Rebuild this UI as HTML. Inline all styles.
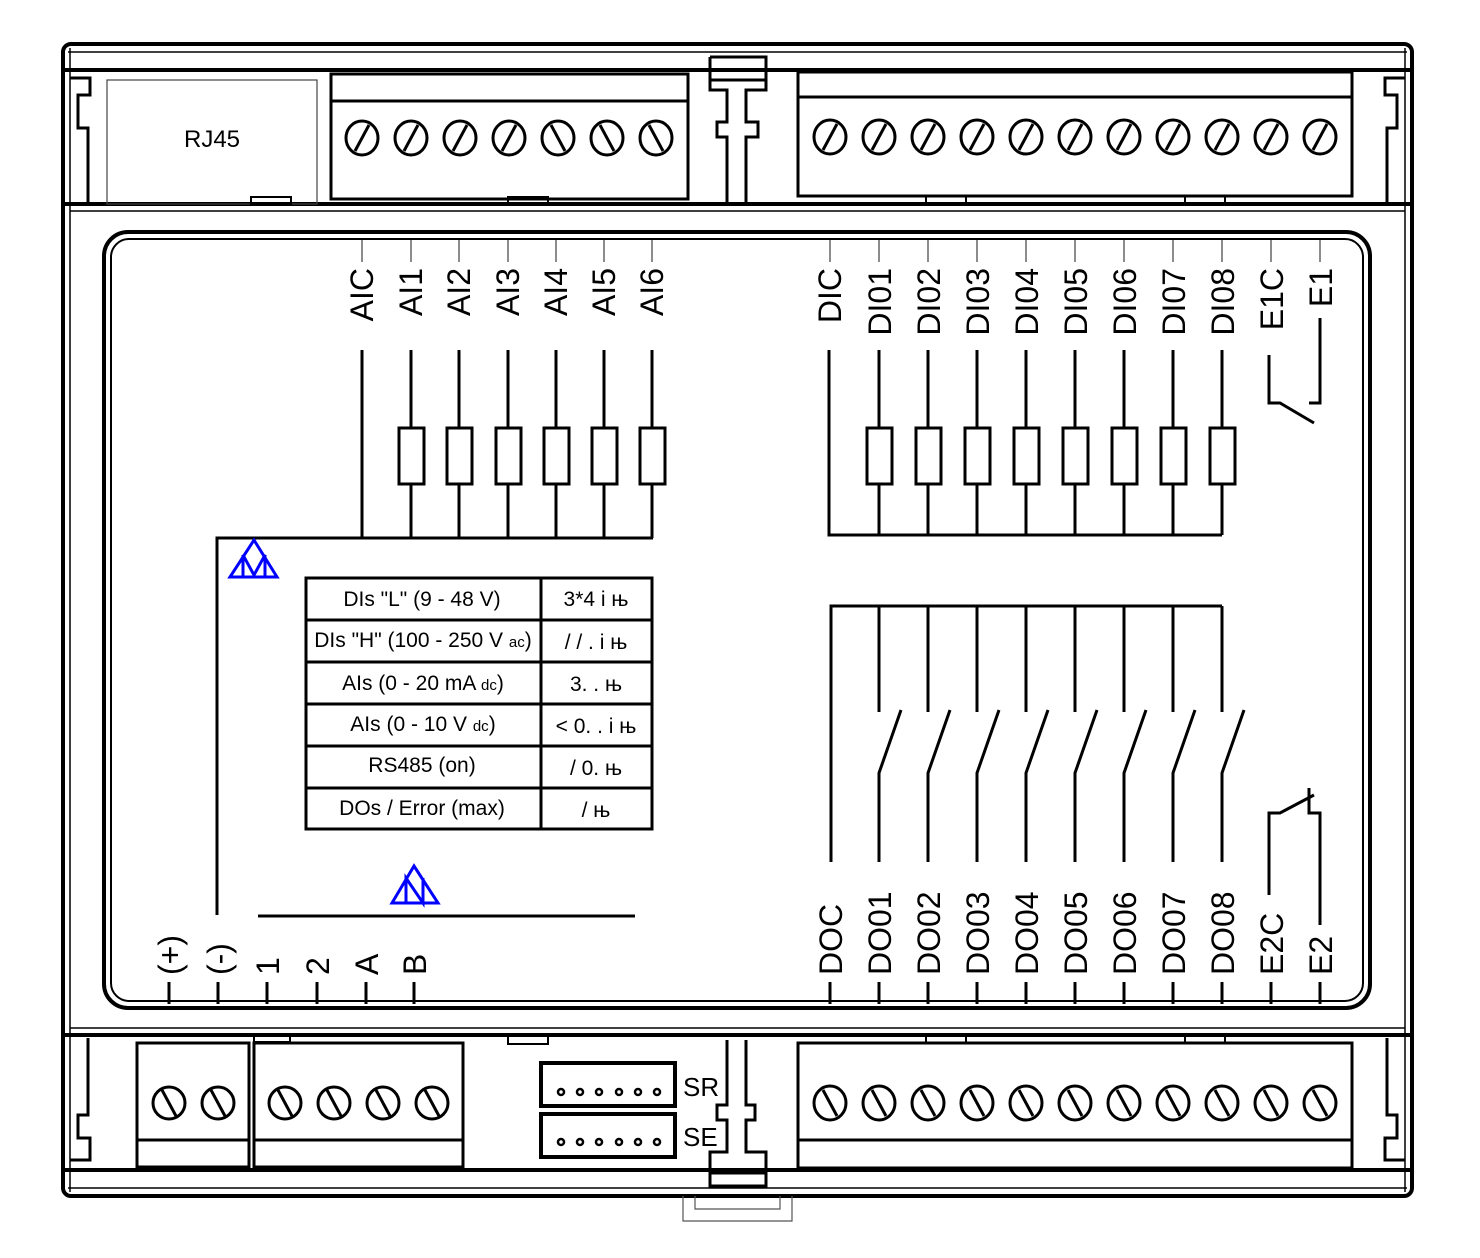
<!DOCTYPE html>
<html><head><meta charset="utf-8"><style>
html,body{margin:0;padding:0;background:#fff}
svg{display:block}
text{font-family:"Liberation Sans",Arial,sans-serif;fill:#000}
</style></head><body>
<svg width="1480" height="1258" viewBox="0 0 1480 1258" xmlns="http://www.w3.org/2000/svg">
<g fill="none" stroke="#000">
<rect x="63" y="44" width="1349" height="1152" rx="8" stroke-width="4"/>
<line x1="68" y1="52" x2="1407" y2="52" stroke-width="1.5"/>
<line x1="68" y1="1188" x2="1407" y2="1188" stroke-width="1.5"/>
<line x1="70" y1="48" x2="70" y2="1192" stroke-width="1.5"/>
<line x1="1405" y1="48" x2="1405" y2="1192" stroke-width="1.5"/>
<line x1="65" y1="70" x2="1410" y2="70" stroke-width="4"/>
<line x1="65" y1="204" x2="1410" y2="204" stroke-width="4"/>
<line x1="70" y1="211" x2="1405" y2="211" stroke-width="1.5"/>
<line x1="65" y1="1035" x2="1410" y2="1035" stroke-width="4"/>
<line x1="70" y1="1028" x2="1405" y2="1028" stroke-width="1.5"/>
<line x1="65" y1="1170" x2="1410" y2="1170" stroke-width="4"/>
<path d="M70 78 H90 V95 H78 V128 H88 V203" stroke-width="3"/>
<path d="M1405 78 H1385 V95 H1397 V128 H1387 V203" stroke-width="3"/>
<path d="M70 1160 H90 V1138 H78 V1115 H88 V1038" stroke-width="3"/>
<path d="M1405 1160 H1385 V1138 H1397 V1115 H1387 V1038" stroke-width="3"/>
<rect x="104" y="232" width="1266" height="776" rx="24" stroke-width="4"/>
<rect x="111" y="239" width="1252" height="762" rx="18" stroke-width="2"/>
<rect x="107" y="80" width="210" height="124" stroke-width="1.2" stroke="#444"/>
<rect x="251" y="197" width="40" height="7" stroke-width="2"/>
<rect x="331" y="74" width="357" height="125" stroke-width="3"/>
<line x1="331" y1="101" x2="688" y2="101" stroke-width="3"/>
<rect x="508" y="197" width="40" height="7" stroke-width="2"/>
<rect x="798" y="72" width="554" height="124" stroke-width="3"/>
<line x1="798" y1="97" x2="1352" y2="97" stroke-width="3"/>
<rect x="926" y="196" width="40" height="8" stroke-width="2"/>
<rect x="1185" y="196" width="40" height="8" stroke-width="2"/>
<path d="M710 57 H766 V90 H746 V122 H758 V137 H746 V204 M710 57 V90 H727 V122 H717 V137 H727 V204" stroke-width="3"/>
<line x1="710" y1="80" x2="766" y2="80" stroke-width="3"/>
<rect x="137" y="1043" width="112" height="124" stroke-width="3"/>
<line x1="137" y1="1140" x2="249" y2="1140" stroke-width="3"/>
<rect x="254" y="1043" width="209" height="124" stroke-width="3"/>
<line x1="254" y1="1140" x2="463" y2="1140" stroke-width="3"/>
<rect x="254" y="1035" width="36" height="7" stroke-width="2"/>
<rect x="508" y="1035" width="40" height="9" stroke-width="2"/>
<rect x="798" y="1043" width="554" height="125" stroke-width="3"/>
<line x1="798" y1="1140" x2="1352" y2="1140" stroke-width="3"/>
<rect x="926" y="1035" width="40" height="8" stroke-width="2"/>
<rect x="1185" y="1035" width="40" height="8" stroke-width="2"/>
<rect x="541" y="1063" width="134" height="43" stroke-width="4"/>
<rect x="541" y="1114" width="134" height="43" stroke-width="4"/>
<path d="M727 1040 V1105 H717 V1120 H727 V1152 H710 V1186 H766 V1152 H746 V1120 H755 V1105 H746 V1040" stroke-width="3"/>
<line x1="710" y1="1173" x2="766" y2="1173" stroke-width="3"/>
<path d="M683 1196 V1221 H792 V1196 M695 1196 V1209 H780 V1196" stroke-width="1.2" stroke="#555"/>
</g>
<g fill="#fff" stroke="#000" stroke-width="2.5">
<circle cx="561" cy="1092" r="3"/><circle cx="580" cy="1092" r="3"/><circle cx="599" cy="1092" r="3"/><circle cx="619" cy="1092" r="3"/><circle cx="638" cy="1092" r="3"/><circle cx="657" cy="1092" r="3"/>
<circle cx="561" cy="1142" r="3"/><circle cx="580" cy="1142" r="3"/><circle cx="599" cy="1142" r="3"/><circle cx="619" cy="1142" r="3"/><circle cx="638" cy="1142" r="3"/><circle cx="657" cy="1142" r="3"/>
</g>
<g fill="none" stroke="#000" stroke-width="3">
<ellipse cx="362" cy="138" rx="16" ry="17"/><line x1="369" y1="125" x2="355" y2="151"/>
<ellipse cx="411" cy="138" rx="16" ry="17"/><line x1="418" y1="125" x2="404" y2="151"/>
<ellipse cx="460" cy="138" rx="16" ry="17"/><line x1="467" y1="125" x2="453" y2="151"/>
<ellipse cx="509" cy="138" rx="16" ry="17"/><line x1="516" y1="125" x2="502" y2="151"/>
<ellipse cx="558" cy="138" rx="16" ry="17"/><line x1="551" y1="125" x2="565" y2="151"/>
<ellipse cx="607" cy="138" rx="16" ry="17"/><line x1="600" y1="125" x2="614" y2="151"/>
<ellipse cx="656" cy="138" rx="16" ry="17"/><line x1="649" y1="125" x2="663" y2="151"/>
<ellipse cx="830" cy="137" rx="16" ry="17"/><line x1="837" y1="124" x2="823" y2="150"/>
<ellipse cx="879" cy="137" rx="16" ry="17"/><line x1="886" y1="124" x2="872" y2="150"/>
<ellipse cx="928" cy="137" rx="16" ry="17"/><line x1="935" y1="124" x2="921" y2="150"/>
<ellipse cx="977" cy="137" rx="16" ry="17"/><line x1="984" y1="124" x2="970" y2="150"/>
<ellipse cx="1026" cy="137" rx="16" ry="17"/><line x1="1033" y1="124" x2="1019" y2="150"/>
<ellipse cx="1075" cy="137" rx="16" ry="17"/><line x1="1082" y1="124" x2="1068" y2="150"/>
<ellipse cx="1124" cy="137" rx="16" ry="17"/><line x1="1131" y1="124" x2="1117" y2="150"/>
<ellipse cx="1173" cy="137" rx="16" ry="17"/><line x1="1180" y1="124" x2="1166" y2="150"/>
<ellipse cx="1222" cy="137" rx="16" ry="17"/><line x1="1229" y1="124" x2="1215" y2="150"/>
<ellipse cx="1271" cy="137" rx="16" ry="17"/><line x1="1278" y1="124" x2="1264" y2="150"/>
<ellipse cx="1320" cy="137" rx="16" ry="17"/><line x1="1327" y1="124" x2="1313" y2="150"/>
<ellipse cx="169" cy="1103" rx="16" ry="16"/><line x1="162" y1="1090" x2="176" y2="1116"/>
<ellipse cx="218" cy="1103" rx="16" ry="16"/><line x1="211" y1="1090" x2="225" y2="1116"/>
<ellipse cx="285" cy="1103" rx="16" ry="16"/><line x1="278" y1="1090" x2="292" y2="1116"/>
<ellipse cx="334" cy="1103" rx="16" ry="16"/><line x1="327" y1="1090" x2="341" y2="1116"/>
<ellipse cx="383" cy="1103" rx="16" ry="16"/><line x1="376" y1="1090" x2="390" y2="1116"/>
<ellipse cx="432" cy="1103" rx="16" ry="16"/><line x1="425" y1="1090" x2="439" y2="1116"/>
<ellipse cx="830" cy="1103" rx="16" ry="17"/><line x1="823" y1="1090" x2="837" y2="1116"/>
<ellipse cx="879" cy="1103" rx="16" ry="17"/><line x1="872" y1="1090" x2="886" y2="1116"/>
<ellipse cx="928" cy="1103" rx="16" ry="17"/><line x1="921" y1="1090" x2="935" y2="1116"/>
<ellipse cx="977" cy="1103" rx="16" ry="17"/><line x1="970" y1="1090" x2="984" y2="1116"/>
<ellipse cx="1026" cy="1103" rx="16" ry="17"/><line x1="1019" y1="1090" x2="1033" y2="1116"/>
<ellipse cx="1075" cy="1103" rx="16" ry="17"/><line x1="1068" y1="1090" x2="1082" y2="1116"/>
<ellipse cx="1124" cy="1103" rx="16" ry="17"/><line x1="1117" y1="1090" x2="1131" y2="1116"/>
<ellipse cx="1173" cy="1103" rx="16" ry="17"/><line x1="1166" y1="1090" x2="1180" y2="1116"/>
<ellipse cx="1222" cy="1103" rx="16" ry="17"/><line x1="1215" y1="1090" x2="1229" y2="1116"/>
<ellipse cx="1271" cy="1103" rx="16" ry="17"/><line x1="1264" y1="1090" x2="1278" y2="1116"/>
<ellipse cx="1320" cy="1103" rx="16" ry="17"/><line x1="1313" y1="1090" x2="1327" y2="1116"/>
</g>
<g stroke="#666" stroke-width="1.5">
<line x1="362" y1="240" x2="362" y2="262"/><line x1="411" y1="240" x2="411" y2="262"/><line x1="459" y1="240" x2="459" y2="262"/><line x1="508" y1="240" x2="508" y2="262"/><line x1="556" y1="240" x2="556" y2="262"/><line x1="604" y1="240" x2="604" y2="262"/><line x1="652" y1="240" x2="652" y2="262"/>
<line x1="830" y1="240" x2="830" y2="262"/><line x1="879" y1="240" x2="879" y2="262"/><line x1="928" y1="240" x2="928" y2="262"/><line x1="977" y1="240" x2="977" y2="262"/><line x1="1026" y1="240" x2="1026" y2="262"/><line x1="1075" y1="240" x2="1075" y2="262"/><line x1="1124" y1="240" x2="1124" y2="262"/><line x1="1173" y1="240" x2="1173" y2="262"/><line x1="1222" y1="240" x2="1222" y2="262"/><line x1="1271" y1="240" x2="1271" y2="262"/><line x1="1320" y1="240" x2="1320" y2="262"/>
</g>
<g fill="none" stroke="#000" stroke-width="3">
<path d="M362 350 V538 M411 350 V428 M411 484 V538 M459 350 V428 M459 484 V538 M508 350 V428 M508 484 V538 M556 350 V428 M556 484 V538 M604 350 V428 M604 484 V538 M652 350 V428 M652 484 V538"/>
<path d="M217 915 V538 H653"/>
<rect x="399" y="428" width="25" height="56"/><rect x="447" y="428" width="25" height="56"/><rect x="496" y="428" width="25" height="56"/><rect x="544" y="428" width="25" height="56"/><rect x="592" y="428" width="25" height="56"/><rect x="640" y="428" width="25" height="56"/>
<path d="M829 350 V535 H1222 M879 350 V428 M879 484 V535 M928 350 V428 M928 484 V535 M977 350 V428 M977 484 V535 M1026 350 V428 M1026 484 V535 M1075 350 V428 M1075 484 V535 M1124 350 V428 M1124 484 V535 M1173 350 V428 M1173 484 V535 M1222 350 V428 M1222 484 V535"/>
<rect x="867" y="428" width="25" height="56"/><rect x="916" y="428" width="25" height="56"/><rect x="965" y="428" width="25" height="56"/><rect x="1014" y="428" width="25" height="56"/><rect x="1063" y="428" width="25" height="56"/><rect x="1112" y="428" width="25" height="56"/><rect x="1161" y="428" width="25" height="56"/><rect x="1210" y="428" width="25" height="56"/>
<path d="M1269 355 V403 H1280 L1314 423 M1320 318 V403 H1309"/>
<path d="M831 862 V606 H1222"/>
<path d="M879 606 V712 M879 862 V773 L901 710 M928 606 V712 M928 862 V773 L950 710 M977 606 V712 M977 862 V773 L999 710 M1026 606 V712 M1026 862 V773 L1048 710 M1075 606 V712 M1075 862 V773 L1097 710 M1124 606 V712 M1124 862 V773 L1146 710 M1173 606 V712 M1173 862 V773 L1195 710 M1222 606 V712 M1222 862 V773 L1244 710"/>
<path d="M1269 895 V813 H1280 L1314 795 M1320 925 V813 H1309 V788"/>
<line x1="258" y1="916" x2="635" y2="916"/>
<path d="M169 982 V1004 M218 982 V1004 M267 982 V1004 M317 982 V1004 M366 982 V1004 M414 982 V1004"/>
<path d="M830 982 V1004 M879 982 V1004 M928 982 V1004 M977 982 V1004 M1026 982 V1004 M1075 982 V1004 M1124 982 V1004 M1173 982 V1004 M1222 982 V1004 M1271 982 V1004 M1320 982 V1004"/>
<rect x="306" y="578" width="346" height="251"/>
<line x1="541" y1="578" x2="541" y2="829"/>
<path d="M306 620 H652 M306 662 H652 M306 704 H652 M306 746 H652 M306 788 H652"/>
</g>
<g fill="none" stroke="#00f" stroke-width="3">
<path d="M254 540 L277 577 H230 Z"/><path d="M243 577 V555 L254 575 L265 555 V577"/>
<path d="M414 866 L438 903 H392 Z"/><path d="M406 903 V878 L423 903 V878"/>
</g>
<text x="212" y="147" font-size="24" text-anchor="middle">RJ45</text>
<text x="683" y="1096" font-size="26">SR</text>
<text x="683" y="1146" font-size="26">SE</text>
<g font-size="32" text-anchor="end">
<text transform="translate(373,268) rotate(-90)">AIC</text>
<text transform="translate(422,268) rotate(-90)">AI1</text>
<text transform="translate(470,268) rotate(-90)">AI2</text>
<text transform="translate(519,268) rotate(-90)">AI3</text>
<text transform="translate(567,268) rotate(-90)">AI4</text>
<text transform="translate(615,268) rotate(-90)">AI5</text>
<text transform="translate(663,268) rotate(-90)">AI6</text>
<text transform="translate(841,268) rotate(-90)">DIC</text>
<text transform="translate(891,268) rotate(-90)">DI01</text>
<text transform="translate(940,268) rotate(-90)">DI02</text>
<text transform="translate(989,268) rotate(-90)">DI03</text>
<text transform="translate(1038,268) rotate(-90)">DI04</text>
<text transform="translate(1087,268) rotate(-90)">DI05</text>
<text transform="translate(1136,268) rotate(-90)">DI06</text>
<text transform="translate(1185,268) rotate(-90)">DI07</text>
<text transform="translate(1234,268) rotate(-90)">DI08</text>
<text transform="translate(1283,268) rotate(-90)">E1C</text>
<text transform="translate(1332,268) rotate(-90)">E1</text>
</g>
<g font-size="32" text-anchor="start">
<text transform="translate(842,975) rotate(-90)">DOC</text>
<text transform="translate(891,975) rotate(-90)">DO01</text>
<text transform="translate(940,975) rotate(-90)">DO02</text>
<text transform="translate(989,975) rotate(-90)">DO03</text>
<text transform="translate(1038,975) rotate(-90)">DO04</text>
<text transform="translate(1087,975) rotate(-90)">DO05</text>
<text transform="translate(1136,975) rotate(-90)">DO06</text>
<text transform="translate(1185,975) rotate(-90)">DO07</text>
<text transform="translate(1234,975) rotate(-90)">DO08</text>
<text transform="translate(1283,975) rotate(-90)">E2C</text>
<text transform="translate(1332,975) rotate(-90)">E2</text>
<text transform="translate(181,975) rotate(-90)">(+)</text>
<text transform="translate(230,975) rotate(-90)">(-)</text>
<text transform="translate(279,975) rotate(-90)">1</text>
<text transform="translate(329,975) rotate(-90)">2</text>
<text transform="translate(378,975) rotate(-90)">A</text>
<text transform="translate(426,975) rotate(-90)">B</text>
</g>
<g font-size="21" text-anchor="middle">
<text x="422" y="606">DIs "L" (9 - 48 V)</text>
<text x="423" y="647">DIs "H" (100 - 250 V <tspan font-size="15">ac</tspan>)</text>
<text x="423" y="690">AIs (0 - 20 mA <tspan font-size="15">dc</tspan>)</text>
<text x="423" y="731">AIs (0 - 10 V <tspan font-size="15">dc</tspan>)</text>
<text x="422" y="772">RS485 (on)</text>
<text x="422" y="815">DOs / Error (max)</text>
<text x="596" y="606">3*4 i њ</text>
<text x="596" y="649">/ / .  i њ</text>
<text x="596" y="691">3. .  њ</text>
<text x="596" y="733">&lt; 0. .  i њ</text>
<text x="596" y="775">/ 0.  њ</text>
<text x="596" y="817">/  њ</text>
</g>
</svg>
</body></html>
